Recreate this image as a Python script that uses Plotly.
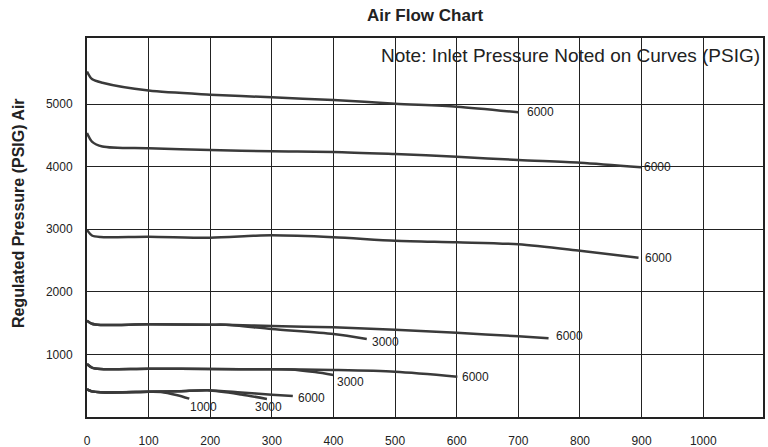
import plotly.graph_objects as go

# ---- data (flow SCFM vs regulated pressure PSIG) ----
flow_A_6000 = [0, 8, 25, 100, 200, 300, 400, 500, 600, 700]
press_A_6000 = [5520, 5400, 5340, 5215, 5150, 5107, 5064, 5005, 4957, 4867]

flow_B_6000 = [0, 8, 25, 100, 200, 300, 400, 500, 600, 700, 800, 899]
press_B_6000 = [4536, 4400, 4322, 4292, 4265, 4245, 4235, 4200, 4158, 4105, 4062, 3989]

flow_C_6000 = [0, 8, 22, 100, 200, 270, 300, 400, 500, 600, 700, 800, 895]
press_C_6000 = [2990, 2900, 2875, 2880, 2864, 2895, 2902, 2872, 2817, 2791, 2759, 2656, 2545]

flow_D_6000 = [0, 8, 22, 100, 200, 225, 300, 400, 500, 600, 700, 749]
press_D_6000 = [1538, 1490, 1470, 1480, 1475, 1475, 1454, 1433, 1395, 1345, 1290, 1257]

flow_D_3000 = [0, 8, 22, 100, 200, 225, 300, 400, 454]
press_D_3000 = [1538, 1490, 1470, 1480, 1475, 1475, 1406, 1326, 1246]

flow_E_6000 = [0, 8, 22, 100, 200, 300, 400, 500, 601]
press_E_6000 = [847, 790, 767, 772, 767, 762, 751, 724, 645]

flow_E_3000 = [0, 8, 22, 100, 200, 300, 330, 370, 400]
press_E_3000 = [847, 790, 767, 772, 767, 762, 760, 718, 671]

flow_F_6000 = [0, 8, 22, 100, 150, 196, 250, 300, 334]
press_F_6000 = [442, 410, 394, 404, 412, 427, 392, 357, 335]

flow_F_3000 = [0, 8, 22, 100, 150, 196, 250, 292]
press_F_3000 = [442, 410, 394, 404, 412, 427, 360, 288]

flow_F_1000 = [0, 8, 22, 100, 120, 145, 166]
press_F_1000 = [442, 410, 394, 404, 400, 352, 293]

inlet_labels = ["6000", "6000", "6000", "6000", "3000", "6000", "3000", "6000", "3000", "1000"]

x_ticks = [0, 100, 200, 300, 400, 500, 600, 700, 800, 900, 1000]
y_ticks = [1000, 2000, 3000, 4000, 5000]

# ---- styling ----
series = [
    (flow_A_6000, press_A_6000),
    (flow_B_6000, press_B_6000),
    (flow_C_6000, press_C_6000),
    (flow_D_6000, press_D_6000),
    (flow_D_3000, press_D_3000),
    (flow_E_6000, press_E_6000),
    (flow_E_3000, press_E_3000),
    (flow_F_6000, press_F_6000),
    (flow_F_3000, press_F_3000),
    (flow_F_1000, press_F_1000),
]
label_shift = [(7, 0), (1, 0), (4, 0), (5, 2), (3, -3), (3, 0), (2, -7), (3, -2), (-14, -8), (-1, -8)]

FONT = "Liberation Sans, Arial, Helvetica, sans-serif"
INK = "#222222"
CURVE = "#3a3a3a"

fig = go.Figure()
for (fx, py), lab, (dx, dy) in zip(series, inlet_labels, label_shift):
    fig.add_trace(go.Scatter(
        x=fx, y=py, mode="lines",
        line=dict(color=CURVE, width=2.5, shape="spline", smoothing=0.8),
        hoverinfo="skip", showlegend=False,
    ))
    fig.add_annotation(
        x=fx[-1], y=py[-1], text=lab, showarrow=False,
        xanchor="left", yanchor="middle", xshift=dx, yshift=dy,
        font=dict(family=FONT, size=12, color=INK),
    )

fig.add_annotation(
    xref="paper", yref="paper", x=0.5, y=1, yshift=23,
    text="<b>Air Flow Chart</b>", showarrow=False,
    xanchor="center", yanchor="middle",
    font=dict(family=FONT, size=17, color=INK),
)
fig.add_annotation(
    xref="paper", yref="paper", x=0, xshift=-69, y=0.538,
    text="<b>Regulated Pressure (PSIG) Air</b>", showarrow=False, textangle=-90,
    xanchor="center", yanchor="middle",
    font=dict(family=FONT, size=16, color=INK),
)
fig.add_annotation(
    xref="paper", yref="paper", x=0.715, y=0.955,
    text="Note: Inlet Pressure Noted on Curves (PSIG)", showarrow=False,
    xanchor="center", yanchor="middle",
    font=dict(family=FONT, size=19, color=INK),
)

fig.update_layout(
    width=768, height=447,
    margin=dict(l=87, r=5, t=38, b=30, autoexpand=False),
    paper_bgcolor="white", plot_bgcolor="white",
    font=dict(family=FONT, size=12, color=INK),
)
fig.update_xaxes(
    range=[0, 1097], tickvals=x_ticks, ticktext=[str(v) for v in x_ticks],
    showgrid=True, gridcolor=INK, gridwidth=1,
    showline=True, linecolor=INK, linewidth=2, mirror=True,
    zeroline=False, ticks="", ticklabelstandoff=12, automargin=False,
    tickfont=dict(family=FONT, size=12, color=INK),
)
fig.update_yaxes(
    range=[0, 6055], tickvals=y_ticks, ticktext=[str(v) for v in y_ticks],
    showgrid=True, gridcolor=INK, gridwidth=1,
    showline=True, linecolor=INK, linewidth=2, mirror=True,
    zeroline=False, ticks="", ticklabelstandoff=10, automargin=False,
    tickfont=dict(family=FONT, size=12, color=INK),
)

fig.write_html(
    "out.html",
    config={"displayModeBar": False},
    post_script="document.body.style.margin='0';document.body.style.overflow='hidden';",
)
